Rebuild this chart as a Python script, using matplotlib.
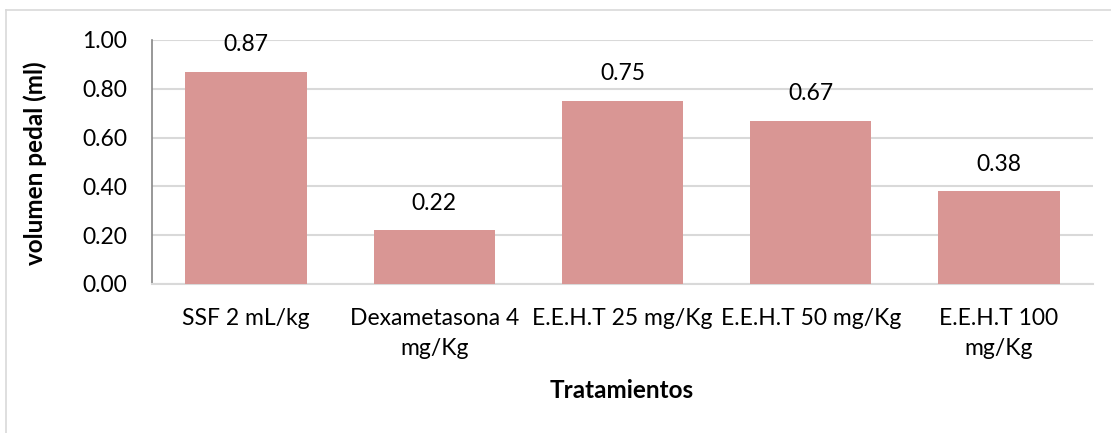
import matplotlib
matplotlib.use("Agg")
import matplotlib.pyplot as plt
from matplotlib.lines import Line2D

categories = ["SSF 2 mL/kg", "Dexametasona 4\nmg/Kg", "E.E.H.T 25 mg/Kg",
              "E.E.H.T 50 mg/Kg", "E.E.H.T 100\nmg/Kg"]
values = [0.87, 0.22, 0.75, 0.67, 0.38]
yticks = [0.0, 0.2, 0.4, 0.6, 0.8, 1.0]

plt.rcParams['font.family'] = ['Lato', 'DejaVu Sans']

W, H = 1111, 433
FS = 16.5
fig = plt.figure(figsize=(W / 100, H / 100), dpi=100)
ax = fig.add_axes([152 / W, 1 - 284 / H, (1093 - 152) / W, (284 - 40) / H])

x = range(len(categories))
ax.bar(x, values, width=0.644, color="#D99694", zorder=3)
for xi, v in zip(x, values):
    ax.annotate(f"{v:.2f}", (xi, v), xytext=(0, 12), textcoords="offset points",
                ha="center", va="bottom", fontsize=FS, color="#000000")

ax.set_xlim(-0.5, len(categories) - 0.5)
ax.set_ylim(0, 1.0)
ax.set_yticks(yticks)
ax.set_yticklabels([f"{t:.2f}" for t in yticks], fontsize=FS)
ax.set_xticks(list(x))
ax.set_xticklabels(categories, fontsize=FS, linespacing=1.55)
ax.tick_params(axis="y", length=0, pad=18)
ax.tick_params(axis="x", length=0, pad=17)
ax.yaxis.grid(True, color="#D9D9D9", linewidth=1.5, zorder=0)
ax.set_axisbelow(True)
for s in ("top", "right"):
    ax.spines[s].set_visible(False)
ax.spines["left"].set_color("#868686")
ax.spines["left"].set_linewidth(1.2)
ax.spines["bottom"].set_color("#D9D9D9")
ax.spines["bottom"].set_linewidth(1.5)

# axis titles
fig.text(622 / W, 1 - 390 / H, "Tratamientos", fontsize=17.5, fontweight="bold",
         ha="center", va="center")
fig.text(35 / W, 1 - 163 / H, "volumen pedal (ml)", fontsize=17.5, fontweight="bold",
         ha="center", va="center", rotation=90)

# chart-area frame (top and left edges)
fig.add_artist(Line2D([6 / W, 1.0], [1 - 10 / H, 1 - 10 / H], transform=fig.transFigure,
                      color="#D9D9D9", linewidth=1.2))
fig.add_artist(Line2D([6 / W, 6 / W], [0.0, 1 - 10 / H], transform=fig.transFigure,
                      color="#D9D9D9", linewidth=1.2))

fig.savefig("out.png", dpi=100, facecolor="white")
